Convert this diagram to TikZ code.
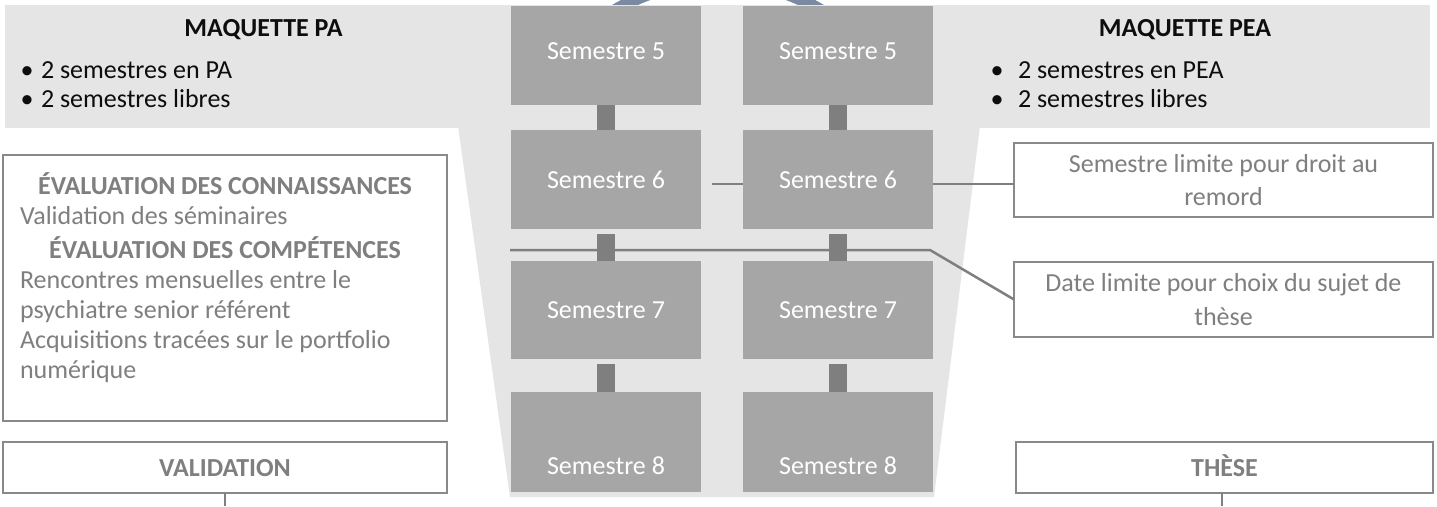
\documentclass[tikz,border=0pt]{standalone}
\usepackage{fontspec}
\setmainfont{Carlito}
\definecolor{bandgray}{RGB}{229,229,229}
\definecolor{semgray}{RGB}{166,166,166}
\definecolor{dgray}{RGB}{127,127,127}
\definecolor{framegray}{RGB}{137,137,137}
\definecolor{ringblue}{RGB}{122,138,163}
\definecolor{titleblack}{RGB}{13,13,13}
\begin{document}
\begin{tikzpicture}[x=1pt,y=-1pt,
  every node/.style={font=\fontsize{26}{33.7}\selectfont, inner sep=0pt, outer sep=0pt},
  sem/.style={fill=semgray, minimum width=190pt, text=white, text height=17pt, text depth=0pt},
  conn/.style={draw=dgray, line width=18pt},
  frame/.style={draw=framegray, line width=2.5pt, fill=white},
  lnk/.style={draw=dgray, line width=2.5pt},
  ttl/.style={font=\fontsize{26}{33.7}\selectfont\bfseries, text=titleblack},
  blt/.style={text=titleblack},
  hd/.style={font=\fontsize{26}{33.7}\selectfont\bfseries, text=dgray},
  bd/.style={text=dgray}
]
\useasboundingbox (0,0) rectangle (1437,506);
% ring behind everything
\draw[ringblue, line width=12pt] (718,184) circle[radius=202pt];
% background band and funnel
\fill[bandgray] (5,5) rectangle (1430,128);
\fill[bandgray] (441,5) -- (995,5) -- (934,497) -- (510,497) -- cycle;
% horizontal line through semester gap
\coordinate (cB) at (510,250);
\coordinate (cB2) at (930,250);
% semester boxes
\node[sem, minimum height=99pt, text depth=9pt] (s5l) at (606,55.5) {Semestre 5};
\node[sem, minimum height=99pt, text depth=9pt] (s5r) at (838,55.5) {Semestre 5};
\node[sem, minimum height=99pt] (s6l) at (606,179.5) {Semestre 6};
\node[sem, minimum height=99pt] (s6r) at (838,179.5) {Semestre 6};
\node[sem, minimum height=98pt] (s7l) at (606,310) {Semestre 7};
\node[sem, minimum height=98pt] (s7r) at (838,310) {Semestre 7};
\node[sem, minimum height=100pt, text height=64pt] (s8l) at (606,442) {Semestre 8};
\node[sem, minimum height=100pt, text height=64pt] (s8r) at (838,442) {Semestre 8};
% right boxes
\node[frame, minimum width=419pt, minimum height=74pt, align=center, text=dgray] (lim) at (1223.5,180) {Semestre limite pour droit au\\remord};
\node[frame, minimum width=419pt, minimum height=75pt, align=center, text=dgray] (dat) at (1223.5,299.5) {Date limite pour choix du sujet de\\thèse};
\node[frame, minimum width=417pt, minimum height=51pt, hd, text height=17pt, text depth=0pt] (the) at (1224.5,467.5) {THÈSE};
% left boxes
\node[frame, minimum width=444pt, minimum height=266pt] (eva) at (225,288) {};
\node[frame, minimum width=444pt, minimum height=51pt, hd, text height=17pt, text depth=0pt] (val) at (225,467.5) {VALIDATION};
% connectors
\draw[lnk] (cB) -- (cB2) -- (dat.west);
\draw[conn] (s5l.south) -- (s6l.north);
\draw[conn] (s5r.south) -- (s6r.north);
\draw[conn, shorten <=5pt] (s6l.south) -- (s7l.north);
\draw[conn, shorten <=5pt] (s6r.south) -- (s7r.north);
\draw[conn, shorten <=5pt] (s7l.south) -- (s8l.north);
\draw[conn, shorten <=5pt] (s7r.south) -- (s8r.north);
\coordinate (c6) at (712,184);
\draw[lnk] (c6) -- (c6 -| s6r.west);
\draw[lnk] ([yshift=-4.5pt]s6r.east) -- ([yshift=-4.5pt]s6r.east -| lim.west);
\coordinate (vb) at (225,506);
\draw[lnk] (val.south) -- (vb);
\coordinate (tb) at (1222,506);
\draw[lnk] (tb |- the.south) -- (tb);
% top band texts
\node[ttl, anchor=base] (mpa) at (263.5,36) {MAQUETTE PA};
\node[blt, anchor=base] (bl1) at (27,78) {•};
\node[blt, anchor=base west] (tl1) at (41,78) {2 semestres en PA};
\node[blt, anchor=base] (bl2) at (27,107) {•};
\node[blt, anchor=base west] (tl2) at (41,107) {2 semestres libres};
\node[ttl, anchor=base] (mpea) at (1185,36) {MAQUETTE PEA};
\node[blt, anchor=base] (br1) at (997,78) {•};
\node[blt, anchor=base west] (tr1) at (1018,78) {2 semestres en PEA};
\node[blt, anchor=base] (br2) at (997,107) {•};
\node[blt, anchor=base west] (tr2) at (1018,107) {2 semestres libres};
% evaluation box texts
\node[hd, anchor=base] (e1) at (225,194) {ÉVALUATION DES CONNAISSANCES};
\node[bd, anchor=base west] (e2) at (20,224) {Validation des séminaires};
\node[hd, anchor=base] (e3) at (225,258) {ÉVALUATION DES COMPÉTENCES};
\node[bd, anchor=base west] (e4) at (20,288) {Rencontres mensuelles entre le};
\node[bd, anchor=base west] (e5) at (20,318) {psychiatre senior référent};
\node[bd, anchor=base west] (e6) at (20,348) {Acquisitions tracées sur le portfolio};
\node[bd, anchor=base west] (e7) at (20,378) {numérique};
\end{tikzpicture}
\end{document}
